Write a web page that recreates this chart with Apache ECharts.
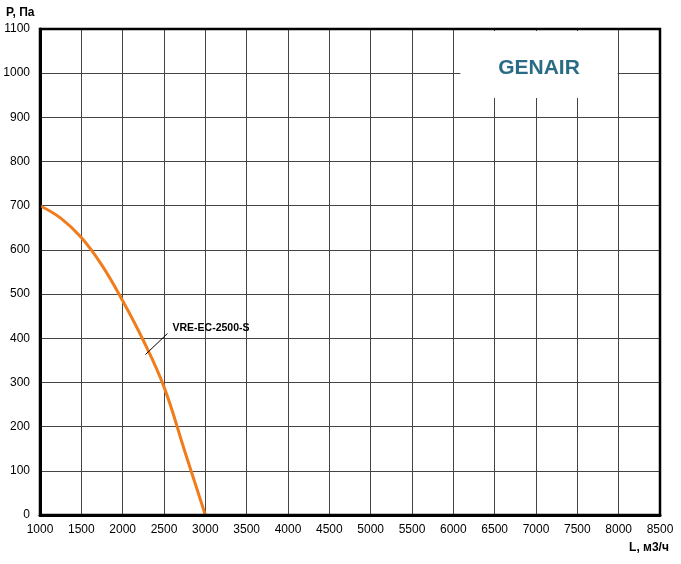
<!DOCTYPE html>
<html><head><meta charset="utf-8">
<script src="https://cdn.jsdelivr.net/npm/echarts@6/dist/echarts.min.js"></script>
<style>html,body{margin:0;padding:0;background:#fff}#c{width:681px;height:564px}</style>
</head><body><div id="c"></div>
<script>
const flowL = [1000, 1250, 1500, 1750, 2000, 2250, 2500, 2750, 3000];
const pressureP = [700, 672, 628, 565, 485, 395, 290, 145, 0];
const seriesName = 'VRE-EC-2500-S';
const xTicks = [1000, 8500, 500];
const yTicks = [0, 1100, 100];

const chart = echarts.init(document.getElementById('c'));
const font = 'Liberation Sans, Arial, sans-serif';
chart.setOption({
  animation: false,
  backgroundColor: '#fff',
  grid: {left: 40, right: 21, top: 29, bottom: 49, containLabel: false, outerBoundsMode: 'none'},
  xAxis: {
    type: 'value', min: xTicks[0], max: xTicks[1], interval: xTicks[2],
    name: 'L, м3/ч', nameLocation: 'end',
    nameTextStyle: {color: '#000', fontSize: 12, fontFamily: font, fontWeight: 'bold', align: 'center', verticalAlign: 'top', padding: [27, 0, 0, 0]},
    nameGap: -11,
    axisLine: {show: true, onZero: false, lineStyle: {color: '#000', width: 3}},
    axisTick: {show: false},
    axisLabel: {color: '#000', fontSize: 12, fontFamily: font, margin: 9, formatter: v => String(v)},
    splitLine: {show: true, lineStyle: {color: '#444', width: 1}}
  },
  yAxis: {
    type: 'value', min: yTicks[0], max: yTicks[1], interval: yTicks[2],
    name: 'P, Па', nameLocation: 'end',
    nameTextStyle: {color: '#000', fontSize: 12, fontFamily: font, fontWeight: 'bold', align: 'left', padding: [0, 0, 0, -34]},
    nameGap: 10,
    axisLine: {show: true, lineStyle: {color: '#000', width: 3}},
    axisTick: {show: false},
    axisLabel: {color: '#000', fontSize: 12, fontFamily: font, margin: 10, formatter: v => String(v)},
    splitLine: {show: true, lineStyle: {color: '#444', width: 1}}
  },
  series: [{
    name: seriesName, type: 'line', smooth: 0.4, symbol: 'none',
    lineStyle: {color: '#f07c1c', width: 3},
    data: flowL.map((x, i) => [x, pressureP[i]]),
    z: 5
  }]
});

function decorate() {
  const topLeft = chart.convertToPixel({gridIndex: 0}, [xTicks[0], yTicks[1]]);
  const botRight = chart.convertToPixel({gridIndex: 0}, [xTicks[1], yTicks[0]]);
  const a = chart.convertToPixel({gridIndex: 0}, [2300, 370]);
  const logoX = chart.convertToPixel({gridIndex: 0}, [6000, 0])[0];
  const logoX2 = chart.convertToPixel({gridIndex: 0}, [8000, 0])[0];
  chart.setOption({
    graphic: [
      {type: 'rect', shape: {x: topLeft[0], y: topLeft[1], width: botRight[0] - topLeft[0], height: botRight[1] - topLeft[1]},
       style: {fill: 'none', stroke: '#000', lineWidth: 2.5}, z: 10},
      {type: 'rect', shape: {x: logoX + 7, y: topLeft[1] + 2, width: logoX2 - logoX - 8, height: 67},
       style: {fill: '#fff'}, z: 3},
      {type: 'text', x: (logoX + logoX2) / 2 + 3, y: 68, style: {text: 'GENAIR', fill: '#2a6b86', font: 'bold 21px Liberation Sans, Arial, sans-serif', textAlign: 'center', textVerticalAlign: 'middle'}, z: 11},
      {type: 'line', shape: {x1: a[0] - 2, y1: a[1] + 3, x2: a[0] + 20, y2: a[1] - 18}, style: {stroke: '#000', lineWidth: 1}, z: 11},
      {type: 'text', x: a[0] + 25, y: a[1] - 23, style: {text: seriesName, fill: '#000', font: 'bold 10.5px Liberation Sans, Arial, sans-serif', textAlign: 'left', textVerticalAlign: 'middle'}, z: 11}
    ]
  });
}
decorate();
</script></body></html>
